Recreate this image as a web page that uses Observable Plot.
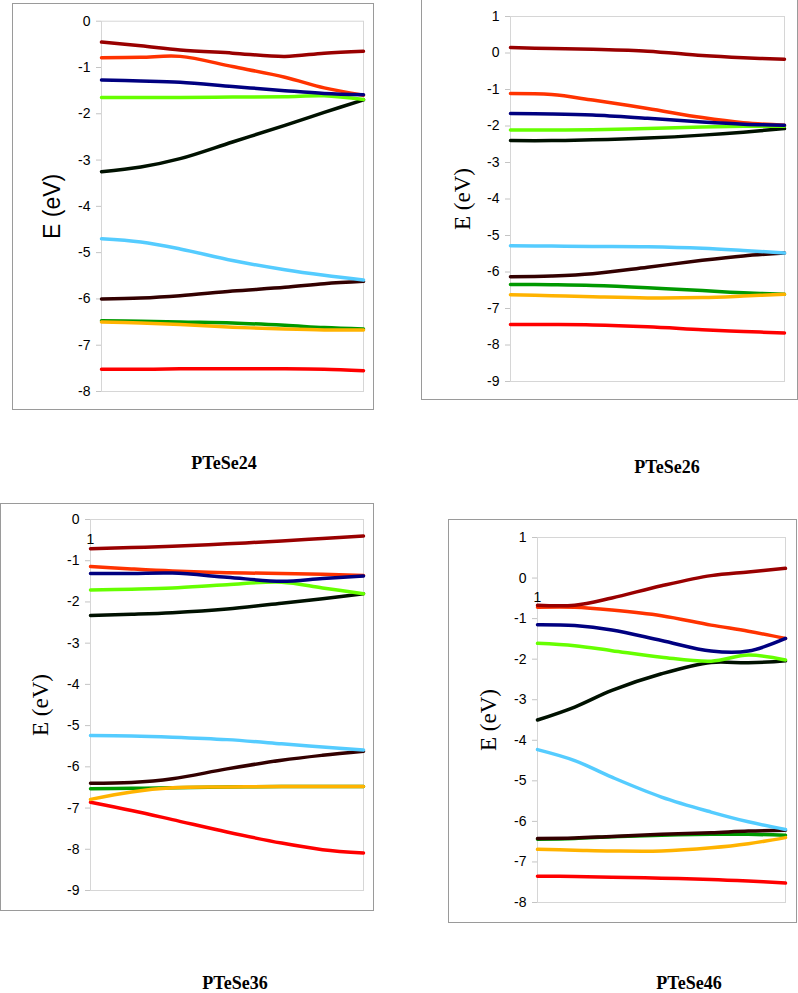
<!DOCTYPE html>
<html>
<head>
<meta charset="utf-8">
<script src="https://cdn.jsdelivr.net/npm/d3@7"></script>
<script src="https://cdn.jsdelivr.net/npm/@observablehq/plot@0.6"></script>
<style>
  body { margin: 0; background: #fff; }
  #page { position: relative; width: 798px; height: 993px; overflow: hidden; background: #fff; }
  .box { position: absolute; box-sizing: border-box; border: 1px solid #9a9a9a; }
  .chart { position: absolute; }
  .chart svg { display: block; overflow: visible; }
  .title {
    position: absolute; transform: translate(-50%, -50%); white-space: nowrap; line-height: 1;
    font-family: "Liberation Serif", "Times New Roman", serif; font-weight: bold; font-size: 18px; color: #000;
  }
</style>
</head>
<body>
<div id="page"></div>
<script>
// Positions along the path (normalised), shared by every level
const kPath = [0, 0.15, 0.3, 0.5, 0.7, 0.85, 1];

// Level colours, top of the spectrum first
const levelColors = [
  "#990000", // 1  dark red
  "#FF3300", // 2  orange-red
  "#000080", // 3  navy
  "#66FF00", // 4  bright green
  "#001100", // 5  black
  "#55CCFF", // 6  light blue
  "#330000", // 7  dark brown
  "#009900", // 8  green
  "#FFB300", // 9  orange
  "#FF0000"  // 10 red
];

// Energy levels (eV) for each compound, one row per level, one value per kPath position
const ePTeSe24 = [
  [-0.45, -0.53, -0.62, -0.69, -0.76, -0.69, -0.65],
  [-0.79, -0.78, -0.76, -0.98, -1.21, -1.44, -1.60],
  [-1.27, -1.29, -1.32, -1.41, -1.50, -1.56, -1.59],
  [-1.65, -1.65, -1.65, -1.64, -1.63, -1.61, -1.69],
  [-3.25, -3.15, -2.97, -2.61, -2.25, -1.97, -1.70],
  [-4.70, -4.77, -4.92, -5.17, -5.37, -5.49, -5.59],
  [-6.00, -5.98, -5.93, -5.83, -5.75, -5.67, -5.62],
  [-6.47, -6.48, -6.50, -6.52, -6.57, -6.62, -6.65],
  [-6.50, -6.52, -6.55, -6.61, -6.65, -6.67, -6.67],
  [-7.52, -7.52, -7.51, -7.51, -7.51, -7.52, -7.55]
];
const ePTeSe26 = [
  [ 0.15,  0.12,  0.10,  0.05, -0.07, -0.13, -0.17],
  [-1.11, -1.14, -1.29, -1.52, -1.77, -1.91, -1.98],
  [-1.66, -1.67, -1.70, -1.79, -1.89, -1.95, -1.98],
  [-2.11, -2.11, -2.10, -2.07, -2.03, -2.01, -2.01],
  [-2.40, -2.40, -2.38, -2.33, -2.25, -2.17, -2.07],
  [-5.28, -5.29, -5.30, -5.31, -5.35, -5.41, -5.48],
  [-6.13, -6.11, -6.05, -5.87, -5.68, -5.56, -5.48],
  [-6.34, -6.35, -6.37, -6.43, -6.51, -6.57, -6.61],
  [-6.62, -6.65, -6.68, -6.71, -6.70, -6.66, -6.61],
  [-7.44, -7.44, -7.45, -7.50, -7.58, -7.63, -7.67]
];
const ePTeSe36 = [
  [-0.71, -0.68, -0.65, -0.59, -0.52, -0.46, -0.40],
  [-1.14, -1.20, -1.25, -1.29, -1.31, -1.33, -1.36],
  [-1.31, -1.31, -1.30, -1.40, -1.50, -1.43, -1.37],
  [-1.71, -1.69, -1.66, -1.58, -1.52, -1.66, -1.80],
  [-2.33, -2.30, -2.26, -2.17, -2.03, -1.92, -1.80],
  [-5.24, -5.25, -5.28, -5.34, -5.44, -5.52, -5.59],
  [-6.40, -6.38, -6.29, -6.05, -5.84, -5.72, -5.62],
  [-6.53, -6.52, -6.51, -6.49, -6.48, -6.48, -6.48],
  [-6.79, -6.61, -6.51, -6.49, -6.48, -6.48, -6.48],
  [-6.86, -7.06, -7.28, -7.58, -7.85, -8.01, -8.09]
];
const ePTeSe46 = [
  [-0.67, -0.67, -0.49, -0.19,  0.06,  0.15,  0.24],
  [-0.72, -0.72, -0.79, -0.93, -1.16, -1.31, -1.49],
  [-1.15, -1.17, -1.28, -1.54, -1.80, -1.80, -1.49],
  [-1.61, -1.67, -1.79, -1.95, -2.05, -1.90, -2.02],
  [-3.50, -3.18, -2.77, -2.36, -2.08, -2.09, -2.04],
  [-4.23, -4.50, -4.91, -5.40, -5.77, -6.01, -6.20],
  [-6.42, -6.41, -6.37, -6.32, -6.28, -6.24, -6.22],
  [-6.44, -6.42, -6.38, -6.34, -6.32, -6.32, -6.34],
  [-6.69, -6.71, -6.73, -6.73, -6.65, -6.55, -6.40],
  [-7.35, -7.36, -7.38, -7.40, -7.43, -7.47, -7.52]
];

const compounds = ["PTeSe24", "PTeSe26", "PTeSe36", "PTeSe46"];
const yTicks24 = [-8, -7, -6, -5, -4, -3, -2, -1, 0];
const yTicks26 = [-9, -8, -7, -6, -5, -4, -3, -2, -1, 0, 1];
const yTicks36 = [-9, -8, -7, -6, -5, -4, -3, -2, -1, 0];
const yTicks46 = [-8, -7, -6, -5, -4, -3, -2, -1, 0, 1];
const yLabel = "E (eV)";
const xTickLabel = "1";
const xTickLabelE = -0.48;

// Drawing order of the levels (later ones sit on top)
const drawOrder = [9, 7, 8, 6, 5, 4, 3, 1, 2, 0];

const sans = "'Liberation Sans', Arial, sans-serif";
const serif = "'Liberation Serif', 'Times New Roman', serif";

const panels = [
  { levels: ePTeSe24, ticks: yTicks24, box: [12, 3, 362, 407], m: [17.7, 11, 19, 89], labelFont: sans, labelDx: -49, showK: false,
    title: [224, 463] },
  { levels: ePTeSe26, ticks: yTicks26, box: [421, -1, 377, 401], m: [17, 14, 19, 89], labelFont: serif, labelDx: -48, showK: false,
    title: [667, 467] },
  { levels: ePTeSe36, ticks: yTicks36, box: [0, 503, 374, 408], m: [16, 11, 21, 90], labelFont: serif, labelDx: -50, showK: true,
    title: [235, 983] },
  { levels: ePTeSe46, ticks: yTicks46, box: [448, 519, 349, 404], m: [18, 12, 21, 89], labelFont: serif, labelDx: -49, showK: true,
    title: [689, 983] }
];

const page = document.getElementById("page");

panels.forEach((p, idx) => {
  const [left, top, w, h] = p.box;
  const [mt, mr, mb, ml] = p.m;

  const box = document.createElement("div");
  box.className = "box";
  Object.assign(box.style, { left: left + "px", top: top + "px", width: w + "px", height: h + "px" });
  page.appendChild(box);

  const lineMarks = drawOrder.map(i =>
    Plot.line(kPath.map((k, j) => ({ k, e: p.levels[i][j] })), {
      x: "k", y: "e", stroke: levelColors[i], strokeWidth: 3.5, curve: "catmull-rom"
    })
  );

  const chart = Plot.plot({
    width: w, height: h,
    marginTop: mt, marginRight: mr, marginBottom: mb, marginLeft: ml,
    style: { background: "transparent", overflow: "visible" },
    x: { domain: [0, 1], axis: null },
    y: { domain: [p.ticks[0], p.ticks[p.ticks.length - 1]], axis: null },
    marks: [
      Plot.frame({ stroke: "#d6d6d6" }),
      Plot.axisY({
        ticks: p.ticks, tickSize: 5, tickPadding: 6, stroke: "#c4c4c4", fill: "#000",
        fontSize: 14, fontFamily: sans, label: null, tickFormat: d => String(d)
      }),
      ...lineMarks,
      ...(p.showK ? [Plot.text([xTickLabel], {
        x: 0, y: xTickLabelE, text: d => d, fontSize: 14, fontFamily: sans, fill: "#000", textAnchor: "middle"
      })] : []),
      Plot.text([yLabel], {
        frameAnchor: "left", rotate: -90, dx: p.labelDx, text: d => d,
        fontSize: 23, fontFamily: p.labelFont, fill: "#000", textAnchor: "middle"
      })
    ]
  });

  const holder = document.createElement("div");
  holder.className = "chart";
  Object.assign(holder.style, { left: left + "px", top: top + "px" });
  holder.appendChild(chart);
  page.appendChild(holder);

  const t = document.createElement("div");
  t.className = "title";
  t.textContent = compounds[idx];
  Object.assign(t.style, { left: p.title[0] + "px", top: p.title[1] + "px" });
  page.appendChild(t);
});
</script>
</body>
</html>
